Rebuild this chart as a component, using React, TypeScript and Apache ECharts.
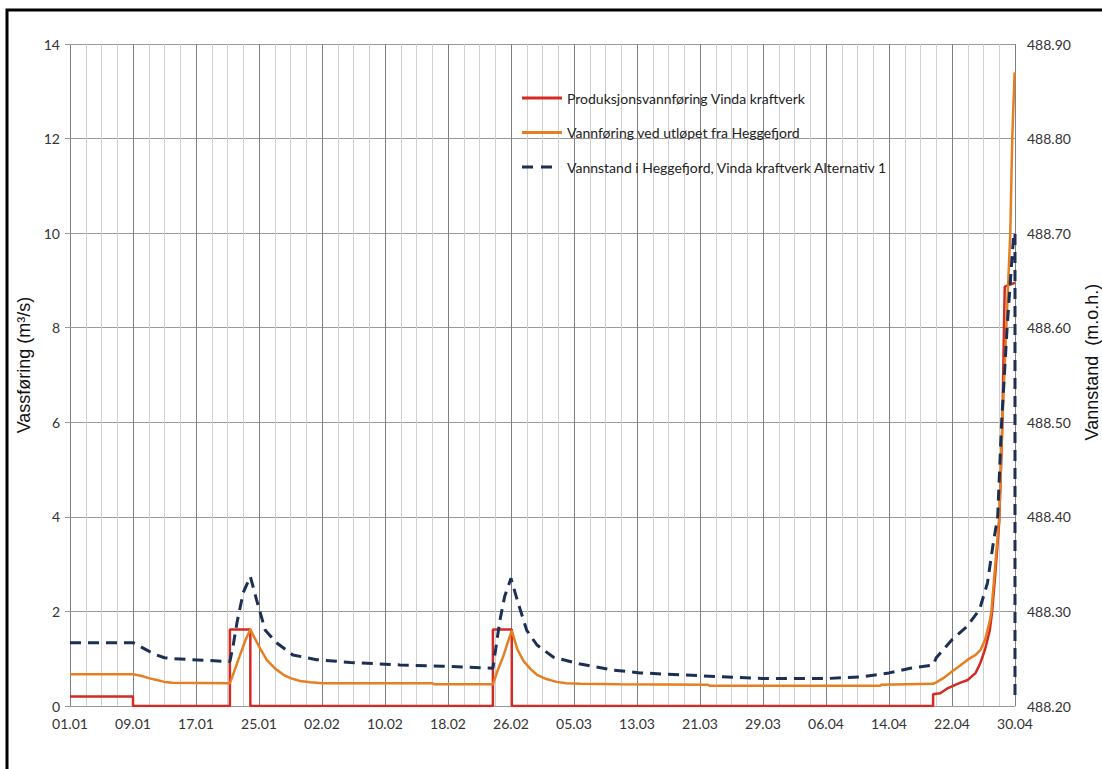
import React, { useEffect, useRef } from "react";
import * as echarts from "echarts";

// X tick labels (every 8 days, leap year 01.01 -> 30.04)
const xTickLabels = [
  "01.01", "09.01", "17.01", "25.01", "02.02", "10.02", "18.02", "26.02",
  "05.03", "13.03", "21.03", "29.03", "06.04", "14.04", "22.04", "30.04",
];

const seriesNames = [
  "Produksjonsvannføring Vinda kraftverk",
  "Vannføring ved utløpet fra Heggefjord",
  "Vannstand i Heggefjord, Vinda kraftverk Alternativ 1",
];

// Production flow (m3/s), day index from 01.01
const redDays = [0, 8, 8, 20.3, 20.3, 22.9, 22.9, 53.7, 53.7, 56.1, 56.1, 109.6, 109.6, 110.5, 111.5, 113, 114, 115, 115.6, 116.2, 116.8, 117.1, 117.5, 118.0, 118.4, 118.6, 118.7, 120];
const redFlow = [0.2, 0.2, 0, 0, 1.62, 1.62, 0, 0, 1.62, 1.62, 0, 0, 0.25, 0.27, 0.38, 0.49, 0.55, 0.7, 0.91, 1.2, 1.6, 2.0, 2.8, 3.9, 6.0, 8.0, 8.87, 8.95];

// Outflow from Heggefjord (m3/s)
const orangeDays = [0, 8, 9, 10, 11, 12, 13, 20.3, 21, 21.6, 22.3, 22.9, 23.5, 24.1, 25, 26, 27.1, 28, 29.2, 30.5, 32.1, 46, 46.3, 53.7, 54.3, 55, 55.6, 56.1, 56.8, 57.6, 58.5, 59.3, 60.5, 61.8, 63, 64.8, 69.8, 81, 81.2, 102.9, 103, 109.6, 110, 111, 112, 113, 114, 115, 115.6, 116.2, 116.8, 117.0, 117.5, 118.0, 118.4, 118.9, 119.4, 119.65, 119.95];
const orangeFlow = [0.67, 0.67, 0.64, 0.59, 0.55, 0.51, 0.49, 0.48, 0.8, 1.08, 1.4, 1.62, 1.42, 1.23, 0.97, 0.8, 0.66, 0.59, 0.53, 0.5, 0.48, 0.48, 0.46, 0.46, 0.75, 1.04, 1.35, 1.6, 1.2, 0.95, 0.78, 0.66, 0.57, 0.51, 0.48, 0.47, 0.46, 0.45, 0.43, 0.43, 0.45, 0.47, 0.5, 0.6, 0.73, 0.85, 0.98, 1.08, 1.18, 1.4, 1.8, 2.0, 3.0, 4.0, 6.0, 8.0, 10.0, 12.0, 13.4];

// Water level in Heggefjord (m.o.h.)
const blueDays = [0, 8, 8.9, 10, 11, 12, 13.1, 20.3, 20.7, 21.2, 22, 22.9, 23.7, 24.8, 26.2, 28.3, 31.3, 35.6, 41.9, 47.4, 53.7, 54.6, 55.2, 56, 56.9, 58, 59.3, 61.4, 64.8, 69, 72.4, 80, 88, 96, 100.7, 104, 106.7, 109.6, 110, 112, 113.9, 115.5, 116.5, 117.2, 117.8, 118.3, 119.0, 119.5, 119.85, 120, 120];
const blueLevel = [488.267, 488.267, 488.263, 488.258, 488.254, 488.251, 488.25, 488.247, 488.263, 488.288, 488.32, 488.337, 488.312, 488.28, 488.267, 488.254, 488.249, 488.246, 488.2434, 488.242, 488.24, 488.291, 488.316, 488.335, 488.309, 488.28, 488.2645, 488.2515, 488.2444, 488.238, 488.235, 488.232, 488.229, 488.229, 488.231, 488.235, 488.24, 488.2434, 488.251, 488.27, 488.284, 488.302, 488.33, 488.37, 488.4, 488.5, 488.6, 488.66, 488.7, 488.7, 488.205];

const zip = (xs: number[], ys: number[]) => xs.map((x, i) => [x, ys[i]]);

const FONT = "Lato";
const NAME_FONT = "Liberation Sans";
const RED = "#d42a24";
const ORANGE = "#e57f22";
const NAVY = "#1c2f55";

export default function App() {
  const ref = useRef<HTMLDivElement>(null);
  useEffect(() => {
    if (!ref.current) return;
    const chart = echarts.init(ref.current, null, { renderer: "svg" });
    chart.setOption({
      animation: false,
      backgroundColor: "#ffffff",
      textStyle: { fontFamily: FONT },
      grid: { left: 70, right: 87, top: 44, bottom: 63, outerBoundsMode: "none", containLabel: false },
      graphic: [
        {
          type: "rect",
          shape: { x: 7, y: 10, width: 1200, height: 900 },
          style: { fill: "none", stroke: "#000", lineWidth: 3 },
          silent: true,
        },
      ],
      legend: {
        orient: "vertical",
        left: 517,
        top: 86,
        itemGap: 20.5,
        itemWidth: 40,
        itemHeight: 3,
        textStyle: { fontFamily: FONT, fontSize: 14, color: "#222" },
        data: [
          { name: seriesNames[0], icon: "path://M0,0H40V3H0Z" },
          { name: seriesNames[1], icon: "path://M0,0H40V3H0Z" },
          { name: seriesNames[2], icon: "path://M0,0H11V3H0Z M19,0H30V3H19Z M39.9,0H40V3H39.9Z" },
        ],
      },
      xAxis: [
        {
          type: "value",
          min: 0,
          max: 120,
          interval: 2,
          axisLine: { show: false },
          axisTick: { show: false },
          axisLabel: { show: false },
          splitLine: { show: true, lineStyle: { color: "#d0d0d0", width: 1 } },
        },
        {
          type: "value",
          position: "bottom",
          min: 0,
          max: 120,
          interval: 8,
          axisLine: { show: true, onZero: false, lineStyle: { color: "#999", width: 1 } },
          axisTick: { show: false },
          axisLabel: {
            color: "#333",
            fontSize: 14,
            fontFamily: FONT,
            margin: 10,
            formatter: (v: number) => xTickLabels[Math.round(v / 8)] ?? "",
          },
          splitLine: { show: true, lineStyle: { color: "#808080", width: 1 } },
        },
      ],
      yAxis: [
        {
          type: "value",
          min: 0,
          max: 14,
          interval: 2,
          name: "Vassføring (m³/s)",
          nameLocation: "middle",
          nameGap: 24,
          nameTextStyle: { fontSize: 18, fontFamily: NAME_FONT, color: "#111", padding: [0, 0, 0, 20] },
          axisLine: { show: false },
          axisTick: { show: true, length: 5, lineStyle: { color: "#999" } },
          axisLabel: { color: "#333", fontSize: 14, fontFamily: FONT, margin: 10 },
          splitLine: { show: true, lineStyle: { color: "#999", width: 1 } },
        },
        {
          type: "value",
          min: 488.2,
          max: 488.9,
          interval: 0.1,
          name: "Vannstand  (m.o.h.)",
          nameLocation: "middle",
          nameGap: 68,
          nameRotate: 90,
          nameTextStyle: { fontSize: 18, fontFamily: NAME_FONT, color: "#111", padding: [0, 0, 0, 26] },
          axisLine: { show: false },
          axisTick: { show: true, length: 5, lineStyle: { color: "#999" } },
          axisLabel: {
            color: "#333",
            fontSize: 14,
            fontFamily: FONT,
            margin: 12,
            formatter: (v: number) => v.toFixed(2),
          },
          splitLine: { show: false },
        },
      ],
      series: [
        {
          name: seriesNames[0],
          type: "line",
          xAxisIndex: 0,
          yAxisIndex: 0,
          symbol: "none",
          data: zip(redDays, redFlow),
          lineStyle: { color: RED, width: 2.5 },
          itemStyle: { color: RED },
        },
        {
          name: seriesNames[1],
          type: "line",
          xAxisIndex: 0,
          yAxisIndex: 0,
          symbol: "none",
          data: zip(orangeDays, orangeFlow),
          lineStyle: { color: ORANGE, width: 2.5 },
          itemStyle: { color: ORANGE },
        },
        {
          name: seriesNames[2],
          type: "line",
          xAxisIndex: 0,
          yAxisIndex: 1,
          symbol: "none",
          data: zip(blueDays, blueLevel),
          lineStyle: { color: NAVY, width: 3, type: [11, 7] },
          itemStyle: { color: NAVY },
        },
      ],
    });
    return () => chart.dispose();
  }, []);
  return (
    <div
      ref={ref}
      style={{ position: "fixed", left: 0, top: 0, width: 1102, height: 769 }}
    />
  );
}
